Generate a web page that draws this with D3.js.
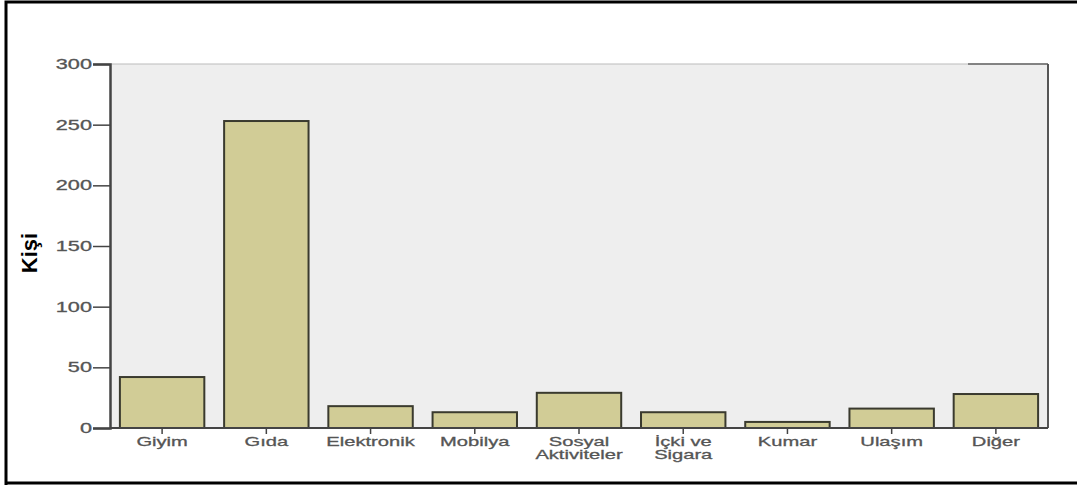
<!DOCTYPE html>
<html><head><meta charset="utf-8">
<script src="https://cdn.jsdelivr.net/npm/d3@7"></script>
<style>body{margin:0;background:#fff;}svg{display:block;}</style>
</head><body>
<svg id="c" width="1077" height="487"></svg>
<script>
const categories = ["Giyim","Gıda","Elektronik","Mobilya","Sosyal\nAktiviteler","İçki ve\nSigara","Kumar","Ulaşım","Diğer"];
const values = [42,253,18,13,29,13,5,16,28];
const yTicks = [0,50,100,150,200,250,300];
const yLabel = "Kişi";

(function(){
const svg = d3.select("#c");
const pL = 110, pR = 1048, pT = 64, pB = 428;
const FONT = "Liberation Sans, Arial, sans-serif";

// outer frame
svg.append("path").attr("d","M6,485 L6,2 L1077,2").attr("fill","none").attr("stroke","#000").attr("stroke-width",3);
svg.append("line").attr("x1",6).attr("x2",1077).attr("y1",483).attr("y2",483).attr("stroke","#000").attr("stroke-width",3);

const x = d3.scaleBand().domain(categories).range([pL,pR]).paddingInner(0.19).paddingOuter(0.095);
const y = d3.scaleLinear().domain([0,300]).range([pB,pT]);

svg.append("rect").attr("x",pL).attr("y",pT).attr("width",pR-pL).attr("height",pB-pT).attr("fill","#eeeeee");
svg.append("line").attr("x1",pL).attr("x2",pR).attr("y1",pT).attr("y2",pT).attr("stroke","#bbb").attr("stroke-width",1);
svg.append("line").attr("x1",968).attr("x2",pR).attr("y1",pT).attr("y2",pT).attr("stroke","#666").attr("stroke-width",1.5);
svg.append("line").attr("x1",pR).attr("x2",pR).attr("y1",pT).attr("y2",pB).attr("stroke","#555").attr("stroke-width",2);

svg.selectAll("rect.bar").data(values).enter().append("rect").attr("class","bar")
  .attr("x",(d,i)=>x(categories[i])).attr("width",x.bandwidth())
  .attr("y",d=>y(d)).attr("height",d=>y(0)-y(d))
  .attr("fill","#d1cc96").attr("stroke","#3a3a2e").attr("stroke-width",2);

const ya = svg.append("g").attr("transform",`translate(${pL},0)`)
  .call(d3.axisLeft(y).tickValues(yTicks).tickSize(17).tickPadding(2));
ya.select(".domain").attr("stroke","#444").attr("stroke-width",2.5);
ya.selectAll(".tick line").attr("stroke","#444").attr("stroke-width",1.5);
ya.selectAll(".tick text").attr("x",0).attr("transform","translate(-18,0) scale(1.55,1)")
  .attr("font-family",FONT).attr("font-size",14).attr("fill","#555").attr("stroke","#555").attr("stroke-width",0.3);

const xa = svg.append("g").attr("transform",`translate(0,${pB})`)
  .call(d3.axisBottom(x).tickSize(6).tickPadding(4));
xa.select(".domain").attr("stroke","#444").attr("stroke-width",2).attr("d",`M${pL},0H${pR}`);
xa.selectAll(".tick line").attr("stroke","#444").attr("stroke-width",1.5);
xa.selectAll(".tick text").text(null).attr("y",0).attr("transform","translate(0,9) scale(1.55,1)")
  .attr("font-family",FONT).attr("font-size",13).attr("fill","#555").attr("stroke","#555").attr("stroke-width",0.3)
  .each(function(d){
    const lines = d.split("\n");
    const t = d3.select(this);
    lines.forEach((l,i)=>t.append("tspan").attr("x",0).attr("dy", i===0 ? "0.71em" : "1.02em").text(l));
  });

svg.append("text").attr("transform","translate(37,253) rotate(-90)").attr("text-anchor","middle")
  .attr("font-family",FONT).attr("font-weight","bold").attr("font-size",22).attr("fill","#000").text(yLabel);
})();
</script>
</body></html>
